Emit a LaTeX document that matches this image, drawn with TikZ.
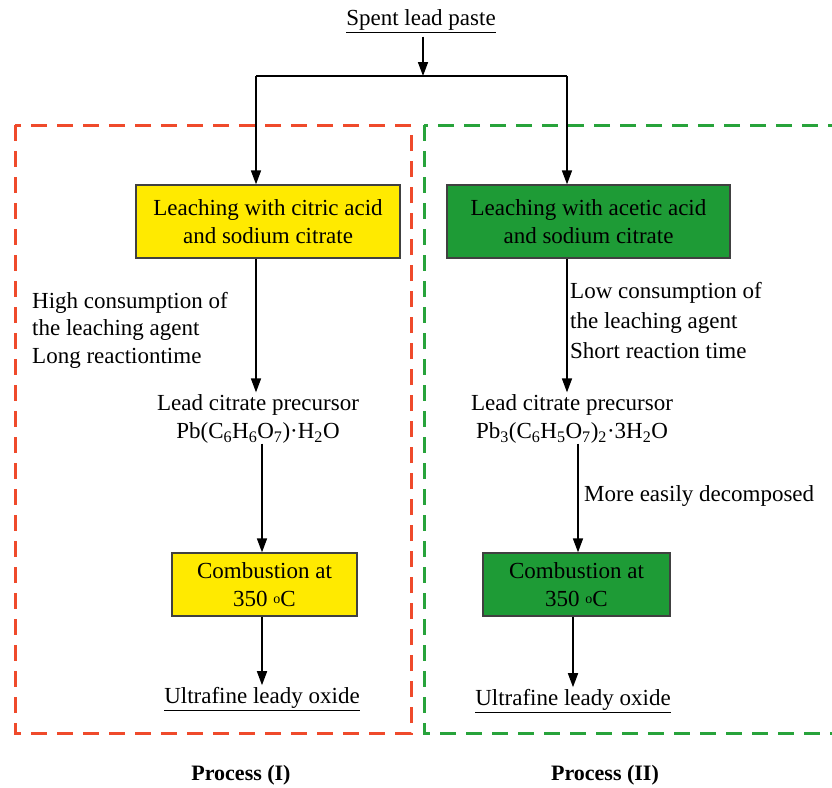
\documentclass[tikz,border=0pt]{standalone}
\usepackage{fontspec}
\setmainfont{Liberation Serif}
\usetikzlibrary{arrows.meta,calc}
\definecolor{boxyellow}{HTML}{FFEA00}
\definecolor{boxgreen}{HTML}{1E9B36}
\definecolor{dashred}{HTML}{EF4A2B}
\definecolor{dashgreen}{HTML}{28A33B}
\newcommand{\degsym}{{\fontsize{14}{14}\selectfont\raisebox{3pt}{o}}}
\begin{document}
\begin{tikzpicture}[x=1pt,y=-1pt,
  txt/.style={font=\fontsize{23}{28}\selectfont, inner sep=0pt},
  procbox/.style={draw=black!75, line width=1.3pt, inner sep=0pt, align=center, font=\fontsize{23}{28}\selectfont},
  flow/.style={line width=1.6pt, -{Triangle[length=14pt,width=10pt]}},
  plain/.style={line width=1.6pt},
  frame/.style={line width=3pt, dash pattern=on 16pt off 10pt}]
\useasboundingbox (0,0) rectangle (832,787);
\clip (0,0) rectangle (832,787);
% frames
\draw[frame, dashred] (15,125) rectangle (411,733);
\draw[frame, dashgreen] (424,125) rectangle (845,733);
% top
\node[txt] (spent) at (421,21) {\underline{Spent lead paste}};
\coordinate (split) at (423,76);
\coordinate (jL) at (256,76);
\coordinate (jR) at (567,76);
% boxes
\node[procbox, fill=boxyellow, minimum width=264pt, minimum height=73pt] (L1) at (268,221.5) {Leaching with citric acid\\and sodium citrate};
\node[procbox, fill=boxgreen, minimum width=283pt, minimum height=73pt] (R1) at (588.5,221.5) {Leaching with acetic acid\\and sodium citrate};
\node[txt, align=center] (P1) at (258,419) {Lead citrate precursor\\Pb(C\textsubscript{6}H\textsubscript{6}O\textsubscript{7})·H\textsubscript{2}O};
\node[txt, align=center] (P2) at (572,419) {Lead citrate precursor\\Pb\textsubscript{3}(C\textsubscript{6}H\textsubscript{5}O\textsubscript{7})\textsubscript{2}·3H\textsubscript{2}O};
\node[procbox, fill=boxyellow, minimum width=185pt, minimum height=63pt] (C1) at (264.5,584.5) {Combustion at\\350 \degsym C};
\node[procbox, fill=boxgreen, minimum width=187pt, minimum height=63pt] (C2) at (576.5,584.5) {Combustion at\\350 \degsym C};
\node[txt] (U1) at (262,699) {\underline{Ultrafine leady oxide}};
\node[txt] (U2) at (573,701) {\underline{Ultrafine leady oxide}};
% annotations
\node[txt, align=left, anchor=north west, font=\fontsize{23}{27.5}\selectfont] (A1) at (32,292) {High consumption of\\the leaching agent\\Long reactiontime};
\node[txt, align=left, anchor=north west, font=\fontsize{23}{30}\selectfont] (A2) at (570,282) {Low consumption of\\the leaching agent\\Short reaction time};
\node[txt, anchor=west] (A3) at (584,496) {More easily decomposed};
\node[txt, font=\fontsize{22}{27}\selectfont\bfseries] (T1) at (241,775) {Process (I)};
\node[txt, font=\fontsize{22}{27}\selectfont\bfseries] (T2) at (605,775) {Process (II)};
% connectors
\draw[flow] (spent.south -| split) ++(0,4) -- (split);
\draw[plain] (jL) -- (jR);
\draw[flow] (jL) -- (jL |- L1.north);
\draw[flow] (jR) -- (jR |- R1.north);
\draw[flow] (L1.south -| jL) -- ($(P1.north -| jL)+(0,-2)$);
\draw[flow] (R1.south -| jR) -- ($(P2.north -| jR)+(0,-2)$);
\draw[flow] ($(P1.south)+(4,0)$) -- (C1.north -| {$(P1.south)+(4,0)$});
\draw[flow] ($(P2.south)+(6,0)$) -- (C2.north -| {$(P2.south)+(6,0)$});
\draw[flow] (C1.south -| U1) -- ($(U1.north)+(0,-2)$);
\draw[flow] (C2.south -| U2) -- ($(U2.north)+(0,-2)$);
\end{tikzpicture}
\end{document}
